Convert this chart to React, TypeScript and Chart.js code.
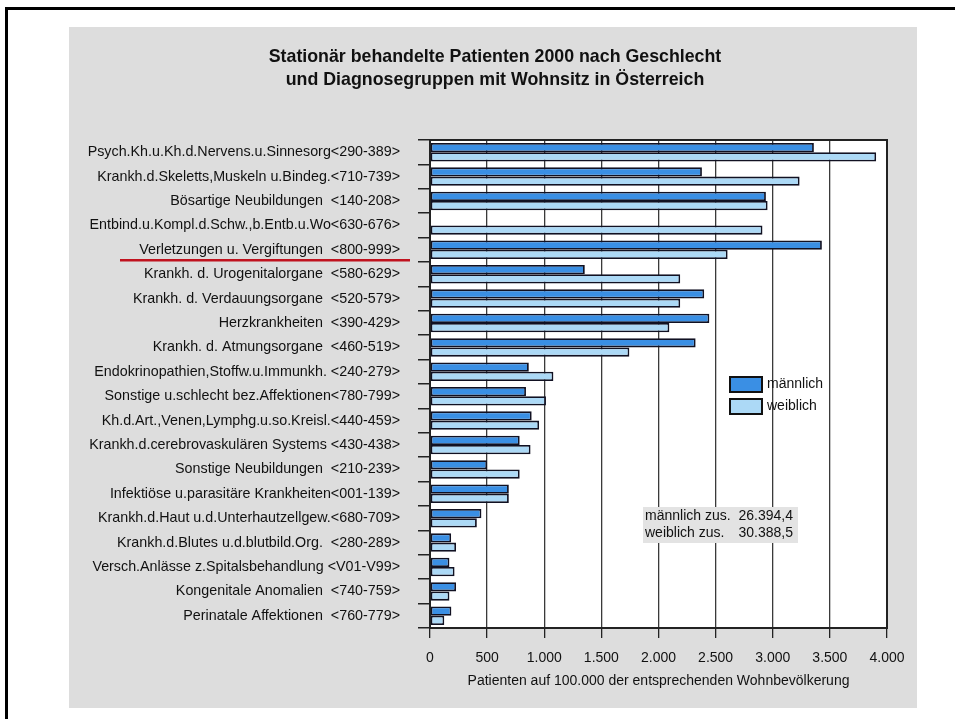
import React, { useEffect, useRef } from 'react';
import { Chart, registerables } from 'chart.js';

Chart.register(...registerables);

const titleLines = [
  'Stationär behandelte Patienten 2000 nach Geschlecht',
  'und Diagnosegruppen mit Wohnsitz in Österreich',
];

const categories = [
  'Psych.Kh.u.Kh.d.Nervens.u.Sinnesorg<290-389>',
  'Krankh.d.Skeletts,Muskeln u.Bindeg.<710-739>',
  'Bösartige Neubildungen  <140-208>',
  'Entbind.u.Kompl.d.Schw.,b.Entb.u.Wo<630-676>',
  'Verletzungen u. Vergiftungen  <800-999>',
  'Krankh. d. Urogenitalorgane  <580-629>',
  'Krankh. d. Verdauungsorgane  <520-579>',
  'Herzkrankheiten  <390-429>',
  'Krankh. d. Atmungsorgane  <460-519>',
  'Endokrinopathien,Stoffw.u.Immunkh. <240-279>',
  'Sonstige u.schlecht bez.Affektionen<780-799>',
  'Kh.d.Art.,Venen,Lymphg.u.so.Kreisl.<440-459>',
  'Krankh.d.cerebrovaskulären Systems <430-438>',
  'Sonstige Neubildungen  <210-239>',
  'Infektiöse u.parasitäre Krankheiten<001-139>',
  'Krankh.d.Haut u.d.Unterhautzellgew.<680-709>',
  'Krankh.d.Blutes u.d.blutbild.Org.  <280-289>',
  'Versch.Anlässe z.Spitalsbehandlung <V01-V99>',
  'Kongenitale Anomalien  <740-759>',
  'Perinatale Affektionen  <760-779>',
];

const maleValues = [
  3360, 2380, 2940, null, 3430, 1355, 2400, 2445, 2325, 865,
  840, 890, 785, 500, 690, 450, 185, 170, 228, 187,
];

const femaleValues = [
  3905, 3235, 2955, 2910, 2605, 2190, 2190, 2095, 1745, 1080,
  1015, 955, 880, 785, 690, 410, 228, 215, 170, 125,
];

const seriesLabels = ['männlich', 'weiblich'];
const seriesColors = ['#3a8fe4', '#acd9f6'];

const xAxisTitle = 'Patienten auf 100.000 der entsprechenden Wohnbevölkerung';
const xMin = 0;
const xMax = 4000;
const xStep = 500;

const totalLabels = ['männlich zus.', 'weiblich zus.'];
const totalValues = [26394.4, 30388.5];

const highlightedCategory = 'Verletzungen u. Vergiftungen  <800-999>';

const FONT = "'Liberation Sans', Arial, Helvetica, sans-serif";
const TEXT = '#111111';

function fmtDe(v: number, decimals = 0): string {
  const [i, d] = v.toFixed(decimals).split('.');
  const ip = i.replace(/\B(?=(\d{3})+(?!\d))/g, '.');
  return d ? ip + ',' + d : ip;
}

const decorPlugin = {
  id: 'decor',
  beforeDraw(chart: any) {
    const { ctx, chartArea } = chart;
    ctx.save();
    ctx.fillStyle = '#ffffff';
    ctx.fillRect(0, 0, chart.width, chart.height);
    // outer frame
    ctx.fillStyle = '#000000';
    ctx.fillRect(5, 7, chart.width - 5, 3);
    ctx.fillRect(5, 7, 3, chart.height - 7);
    // grey panel
    ctx.fillStyle = '#dddddd';
    ctx.fillRect(69, 27, 848, 681);
    // plot background
    ctx.fillStyle = '#ffffff';
    ctx.fillRect(chartArea.left, chartArea.top, chartArea.right - chartArea.left, chartArea.bottom - chartArea.top);
    ctx.restore();
  },
  afterDraw(chart: any) {
    const { ctx, chartArea } = chart;
    const yScale = chart.scales.y;
    ctx.save();
    // plot border
    ctx.strokeStyle = '#222222';
    ctx.lineWidth = 2;
    ctx.strokeRect(chartArea.left, chartArea.top, chartArea.right - chartArea.left, chartArea.bottom - chartArea.top);

    // title
    ctx.fillStyle = TEXT;
    ctx.font = `bold 17.8px ${FONT}`;
    ctx.textAlign = 'center';
    ctx.textBaseline = 'middle';
    titleLines.forEach((t, i) => ctx.fillText(t, 495, 57 + i * 23));

    // legend
    const lx = chartArea.left + 300;
    const ly = chartArea.top + 237;
    ctx.font = `14px ${FONT}`;
    ctx.textAlign = 'left';
    chart.data.datasets.forEach((ds: any, i: number) => {
      const y = ly + i * 22;
      ctx.fillStyle = ds.backgroundColor;
      ctx.fillRect(lx, y, 32, 15);
      ctx.strokeStyle = '#111111';
      ctx.lineWidth = 2;
      ctx.strokeRect(lx, y, 32, 15);
      ctx.fillStyle = TEXT;
      ctx.fillText(ds.label, lx + 37, y + 7);
    });

    // totals annotation
    const ax = chartArea.left + 213;
    const ay = chartArea.top + 367;
    ctx.fillStyle = '#e3e3e3';
    ctx.fillRect(ax, ay, 155, 36);
    ctx.fillStyle = TEXT;
    totalLabels.forEach((lab, i) => {
      const y = ay + 9 + i * 17;
      ctx.textAlign = 'left';
      ctx.fillText(lab, ax + 2, y);
      ctx.textAlign = 'right';
      ctx.fillText(fmtDe(totalValues[i], 1), ax + 150, y);
    });

    // red underline on the highlighted category
    const idx = categories.indexOf(highlightedCategory);
    if (idx >= 0) {
      const y = yScale.getPixelForValue(idx) + 10.5;
      ctx.strokeStyle = '#c0121e';
      ctx.lineWidth = 2.5;
      ctx.beginPath();
      ctx.moveTo(120, y);
      ctx.lineTo(410, y);
      ctx.stroke();
    }
    ctx.restore();
  },
};

export default function App() {
  const ref = useRef<HTMLCanvasElement | null>(null);
  useEffect(() => {
    if (!ref.current) return;
    const chart = new Chart(ref.current, {
      type: 'bar',
      data: {
        labels: categories,
        datasets: [
          {
            label: seriesLabels[0],
            data: maleValues as any,
            backgroundColor: seriesColors[0],
            borderColor: '#111122',
            borderWidth: 1.8,
            borderSkipped: false,
            categoryPercentage: 0.76,
            barPercentage: 1.0,
          },
          {
            label: seriesLabels[1],
            data: femaleValues,
            backgroundColor: seriesColors[1],
            borderColor: '#111122',
            borderWidth: 1.8,
            borderSkipped: false,
            categoryPercentage: 0.76,
            barPercentage: 1.0,
          },
        ],
      },
      plugins: [decorPlugin],
      options: {
        indexAxis: 'y',
        responsive: false,
        animation: false,
        devicePixelRatio: 1,
        layout: { padding: { top: 140, right: 68, bottom: 20, left: 0 } },
        plugins: {
          legend: { display: false },
          title: { display: false },
          tooltip: { enabled: false },
        },
        scales: {
          x: {
            type: 'linear',
            position: 'bottom',
            min: xMin,
            max: xMax,
            ticks: {
              stepSize: xStep,
              padding: 12,
              color: TEXT,
              font: { family: FONT, size: 14 },
              callback: (v: any) => fmtDe(Number(v)),
            },
            grid: {
              color: '#3a3a3a',
              lineWidth: 1.3,
              drawTicks: true,
              tickLength: 10,
              tickColor: '#222222',
            },
            border: { display: false },
            title: {
              display: true,
              text: xAxisTitle,
              color: TEXT,
              font: { family: FONT, size: 14 },
              padding: { top: 0, bottom: 9 },
            },
            afterFit: (scale: any) => {
              scale.height = 71;
            },
          },
          y: {
            type: 'category',
            position: 'left',
            ticks: {
              autoSkip: false,
              padding: 18,
              color: TEXT,
              font: { family: FONT, size: 14.3 },
            },
            grid: {
              display: true,
              drawOnChartArea: false,
              drawTicks: true,
              tickLength: 12,
              tickColor: '#222222',
              lineWidth: 1.5,
            },
            border: { display: false },
            afterFit: (scale: any) => {
              scale.width = 430;
            },
          },
        },
      },
    });
    return () => chart.destroy();
  }, []);
  return (
    <div style={{ position: 'absolute', left: 0, top: 0, width: 955, height: 719 }}>
      <canvas ref={ref} width={955} height={719} style={{ width: 955, height: 719, display: 'block' }} />
    </div>
  );
}
